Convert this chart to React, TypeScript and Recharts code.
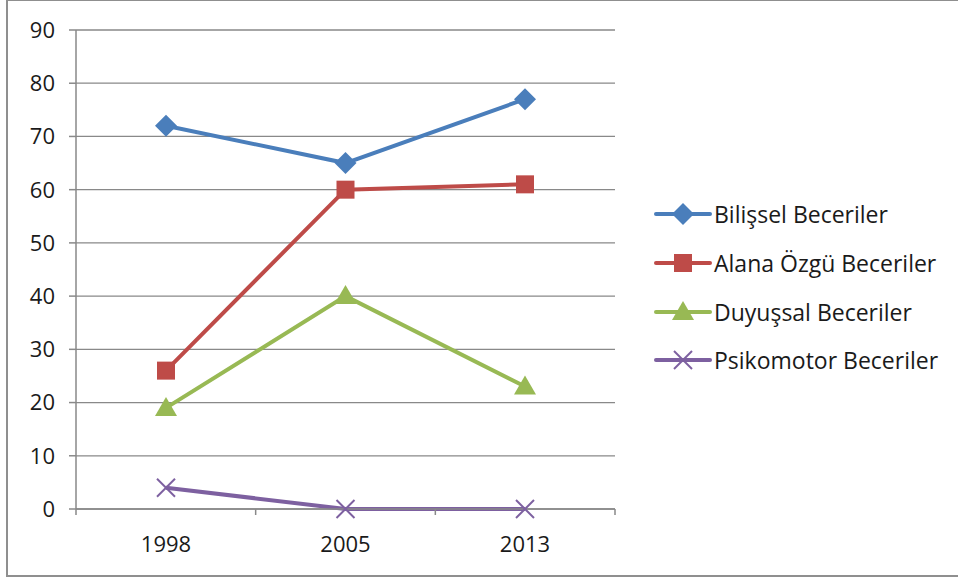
import { LineChart, Line, XAxis, YAxis, CartesianGrid } from "recharts";

const years = ["1998", "2005", "2013"];
const bilissel = [72, 65, 77];
const alanaOzgu = [26, 60, 61];
const duyussal = [19, 40, 23];
const psikomotor = [4, 0, 0];
const yTicks = [0, 10, 20, 30, 40, 50, 60, 70, 80, 90];
const bandEdges = [0, 1, 2, 3];

const series = [
  { key: "bilissel", name: "Bilişsel Beceriler", color: "#4A7EBB", shape: "diamond", values: bilissel },
  { key: "alana", name: "Alana Özgü Beceriler", color: "#BE4B48", shape: "square", values: alanaOzgu },
  { key: "duyussal", name: "Duyuşsal Beceriler", color: "#98B954", shape: "triangle", values: duyussal },
  { key: "psikomotor", name: "Psikomotor Beceriler", color: "#7D60A0", shape: "cross", values: psikomotor },
];

const data = years.map((year, i) => {
  const row: Record<string, string | number> = { year, slot: i + 0.5 };
  series.forEach((s) => (row[s.key] = s.values[i]));
  return row;
});

const FONT = "'Open Sans', sans-serif";
const GRID = "#898989";

function Marker({ shape, color, cx, cy }: { shape: string; color: string; cx: number; cy: number }) {
  if (shape === "diamond") {
    return <polygon points={`${cx},${cy - 11} ${cx + 11},${cy} ${cx},${cy + 11} ${cx - 11},${cy}`} fill={color} />;
  }
  if (shape === "square") {
    return <rect x={cx - 9} y={cy - 9} width={18} height={18} fill={color} />;
  }
  if (shape === "triangle") {
    return <polygon points={`${cx},${cy - 11} ${cx + 11},${cy + 8} ${cx - 11},${cy + 8}`} fill={color} />;
  }
  return (
    <g stroke={color} strokeWidth={2}>
      <line x1={cx - 9} y1={cy - 9} x2={cx + 9} y2={cy + 9} />
      <line x1={cx - 9} y1={cy + 9} x2={cx + 9} y2={cy - 9} />
    </g>
  );
}

function YTick({ x, y, payload }: any) {
  return (
    <text x={x - 12} y={y} dy="0.36em" textAnchor="end" fill="#1a1a1a" fontSize={22} fontFamily={FONT}>
      {payload.value}
    </text>
  );
}

function LegendBox() {
  return (
    <div style={{ position: "absolute", left: 654, top: 190, fontFamily: FONT, fontSize: 23, color: "#1a1a1a" }}>
      {series.map((s) => (
        <div key={s.key} style={{ display: "flex", alignItems: "center", height: 48.7 }}>
          <svg width={58} height={30} style={{ marginRight: 2 }}>
            <line x1={2} y1={15} x2={56} y2={15} stroke={s.color} strokeWidth={4} strokeLinecap="round" />
            <Marker shape={s.shape} color={s.color} cx={29} cy={15} />
          </svg>
          <span>{s.name}</span>
        </div>
      ))}
    </div>
  );
}

export default function App() {
  return (
    <div style={{ position: "absolute", left: 0, top: 0, width: 958, height: 581, overflow: "hidden", background: "#fff" }}>
      <div
        style={{
          position: "absolute",
          left: 6,
          top: -1,
          width: 1000,
          height: 578,
          border: "2px solid #8f8f8f",
          boxSizing: "border-box",
        }}
      />
      <LineChart
        width={958}
        height={581}
        data={data}
        margin={{ top: 30, right: 343, left: 16, bottom: 22 }}
        style={{ position: "absolute", left: 0, top: 0 }}
      >
        <CartesianGrid vertical={false} stroke={GRID} strokeWidth={1.3} />
        <XAxis
          xAxisId="a"
          type="number"
          dataKey="slot"
          domain={[0, 3]}
          allowDataOverflow
          ticks={bandEdges}
          tickFormatter={() => ""}
          height={10}
          axisLine={{ stroke: GRID, strokeWidth: 1.5 }}
          tickLine={{ stroke: GRID, strokeWidth: 1.5 }}
          tickSize={6}
        />
        <XAxis
          xAxisId="b"
          dataKey="year"
          height={40}
          padding={{ left: 90, right: 90 }}
          axisLine={false}
          tickLine={false}
          tickSize={0}
          tickMargin={17}
          tick={{ fill: "#1a1a1a", fontSize: 22, fontFamily: FONT }}
        />
        <YAxis
          domain={[0, 90]}
          ticks={yTicks}
          width={60}
          interval={0}
          axisLine={{ stroke: GRID, strokeWidth: 1.5 }}
          tickLine={{ stroke: GRID, strokeWidth: 1.5 }}
          tickSize={7}
          tick={<YTick />}
        />
        {series.map((s) => (
          <Line
            key={s.key}
            xAxisId="b"
            dataKey={s.key}
            name={s.name}
            stroke={s.color}
            strokeWidth={4}
            isAnimationActive={false}
            dot={(p: any) => <Marker key={`${s.key}-${p.index}`} shape={s.shape} color={s.color} cx={p.cx} cy={p.cy} />}
            activeDot={false}
          />
        ))}
      </LineChart>
      <LegendBox />
    </div>
  );
}
